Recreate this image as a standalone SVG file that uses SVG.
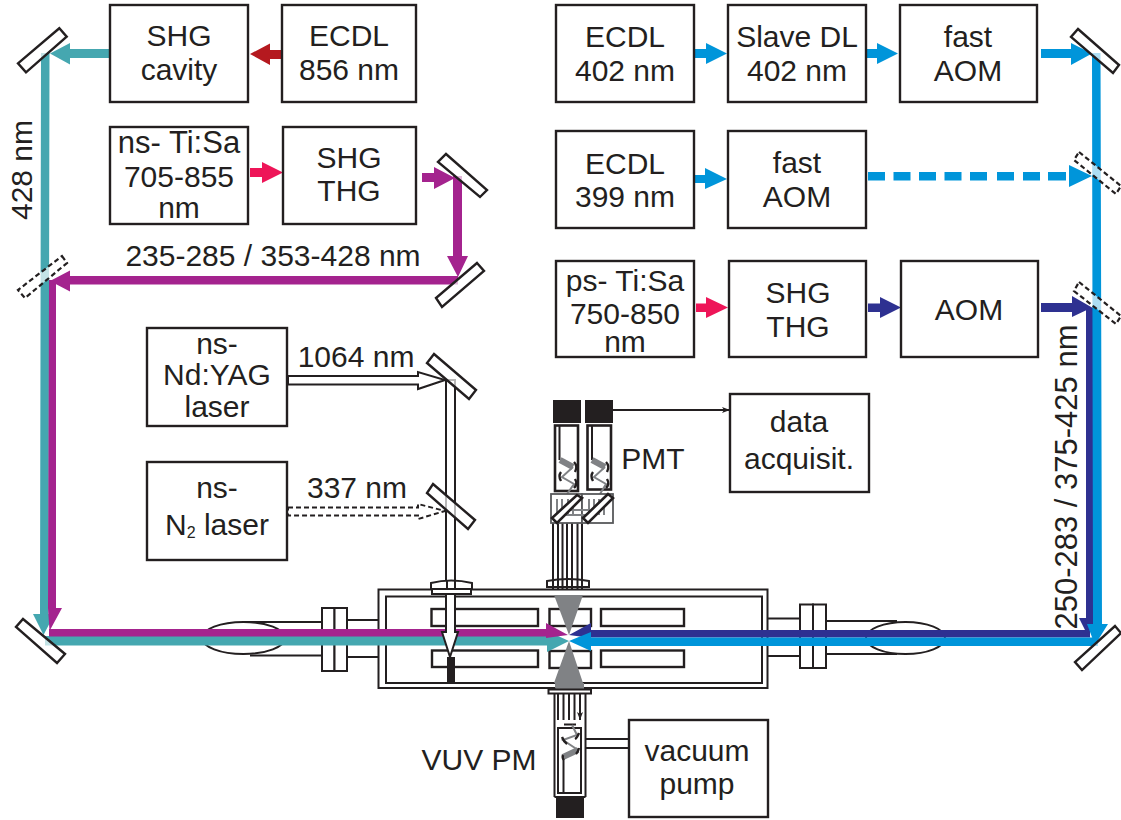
<svg xmlns="http://www.w3.org/2000/svg" width="1121" height="820" viewBox="0 0 1121 820">
<style>
text{font-family:"Liberation Sans",Arial,sans-serif;font-size:30px;fill:#231f20;text-anchor:middle}
.box{fill:#fff;stroke:#231f20;stroke-width:2.4}
.mir{fill:#fff;fill-opacity:.68;stroke:#231f20;stroke-width:2.4}
.dash{stroke-dasharray:5 3;stroke-width:2.2}
.ln{fill:none;stroke:#231f20;stroke-width:2}
.thin{fill:#fff;stroke:#231f20;stroke-width:2}
.tube{fill:#fff;stroke:#231f20;stroke-width:2.6}
.gz{fill:none;stroke:#808285;stroke-width:2}
.arc{fill:none;stroke:#231f20;stroke-width:2.4}
.blk{fill:#231f20}
.gr{fill:#808285}
.teal{fill:#45a7b0}.pur{fill:#a4238e}.cy{fill:#0095da}.nav{fill:#2e3191}.pink{fill:#ee1558}.red{fill:#b5191f}
</style>
<defs>
<marker id="tiny" markerWidth="8" markerHeight="6" refX="8" refY="3" orient="auto" markerUnits="userSpaceOnUse"><path d="M0 0L8 3L0 6L2 3Z" fill="#231f20"/></marker>
<marker id="tinyg" markerWidth="4" markerHeight="4" refX="3" refY="2" orient="auto" markerUnits="userSpaceOnUse"><path d="M0 0L4 2L0 4Z" fill="#808285"/></marker>
</defs>

<g id="chamber">
<rect class="thin" x="378.500" y="589.500" width="389" height="98.500"/>
<rect class="thin" x="386" y="596.500" width="376" height="86.500"/>
<rect class="box" x="431.500" y="609" width="106.500" height="17"/>
<rect class="box" x="432" y="650.500" width="106" height="16.500"/>
<rect class="box" x="549.500" y="609" width="41.500" height="17"/>
<rect class="box" x="549.500" y="651" width="41.500" height="17"/>
<rect class="box" x="601" y="609" width="83" height="17"/>
<rect class="box" x="601" y="650.500" width="83" height="16.500"/>
<path class="gr" d="M554 595H583L569 635ZM554 683H583L569 641Z"/>
<rect class="blk" x="447" y="657" width="8" height="25"/>
</g>
<g id="left-port">
<path class="ln" d="M243 622H322M250 655.500H322M347 620H379M347 657H379"/>
<rect class="thin" x="322" y="608" width="12.500" height="63"/>
<rect class="thin" x="334.500" y="608" width="12.500" height="63"/>
<ellipse class="ln" cx="243.500" cy="638" rx="41.500" ry="16"/>
</g>
<g id="right-port">
<path class="ln" d="M768 618.500H800M768 656H800M826 621H897M826 654H897"/>
<rect class="thin" x="800" y="604.500" width="13" height="63.500"/>
<rect class="thin" x="813" y="604.500" width="13" height="63.500"/>
<ellipse class="ln" cx="905.500" cy="638" rx="39.500" ry="16"/>
</g>

<g id="connectors">
<path class="teal" d="M110 49V58H70V64.500L50 53.500L70 43V49Z"/>
<path class="teal" d="M41 53H49.500L48.500 614H54.500L43.500 635L33 614H40Z"/>
<path class="teal" d="M45 636H547V631L569 641L547 652V645.500H45Z"/>
<path class="pur" d="M458 276V284.500H70V291.500L50 281L70 270.500V276Z"/>
<path class="pur" d="M49 280H56V608H62L49.500 631L48 608Z"/>
<path class="pur" d="M49 629H546V623L568 635L546 638V636.500H49Z"/>
<path class="pur" d="M422 173H434V167L455 178L434 189V182H422Z"/>
<path class="pur" d="M453 176H462V256H468L458 277L447 256H453Z"/>
<path class="red" d="M282 50V59H270V65L250 54L270 43.500V50Z"/>
<path class="pink" d="M250 168H262V162L283 172.500L262 183V177H250Z"/>
<path class="pink" d="M696 303.500H706V297L728 307.500L706 318V312H696Z"/>
<path class="nav" d="M868 303.500H880V297L901 307.500L880 318V312H868Z"/>
<path class="nav" d="M1041 303H1072V296L1092 307.500L1072 317V312H1041Z"/>
<path class="nav" d="M1086 307.500H1094V618H1098L1088 636L1079 618H1086Z"/>
<path class="nav" d="M1090 630V637.500H591V638L569 635L591 623V630Z"/>
<path class="cy" d="M1092 53H1100.500L1102 624H1108L1095 645L1087 624H1093Z"/>
<path class="cy" d="M1098 637.500V646H591V651L569 641L591 632V637.500Z"/>
<path class="cy" d="M695 49H706V43L727 53.500L706 64V58H695Z"/>
<path class="cy" d="M866 49H877V43L898 53.500L877 64V58H866Z"/>
<path class="cy" d="M1041 49H1071V43L1092 53.500L1071 65V58H1041Z"/>
<path class="cy" d="M695 175H705V168L727 179L705 189V183H695Z"/>
<path class="cy" d="M868 172h17v8.500h-17zM893.500 172h17v8.500h-17zM919 172h17v8.500h-17zM944.500 172h17v8.500h-17zM970 172h17v8.500h-17zM997 172h17v8.500h-17zM1023 172h17v8.500h-17zM1048 172h18v8.500h-18zM1069 165L1092 176L1069 187Z"/>
<g id="uv-1064">
<path d="M288 376H418V372L445 380L418 389V384.500H288Z" fill="#fff" stroke="#231f20" stroke-width="2"/>
<path d="M288 507.500H418V504L445 511L418 519V515.500H288Z" fill="#fff" stroke="#231f20" stroke-width="2" stroke-dasharray="5 3"/>
<path d="M446 380H455V632H458L450 657L442 632H446Z" fill="#fff" stroke="#231f20" stroke-width="2"/>
</g>
<path class="ln" d="M613 410H730" stroke-width="1.500" marker-end="url(#tiny)"/>
<path class="ln" d="M553 523V582M558 523V582M562.500 523V582M567 523V582M572 523V582M577.500 523V582M582 523V582"/>
<path class="ln" d="M558 692V720M563.500 692V720M569 692V720M574.500 692V720M580 692V720" marker-end="url(#tiny)"/>
</g>

<g id="lens-left"><path class="thin" d="M432 589H471V594H432Z"/><path class="thin" d="M431 589V583Q451 578 472 583V589Z"/><path class="ln" d="M447 581V589M455 581V589"/></g>
<g id="lens-top"><path class="thin" d="M547 581Q568 577 589 581V587H547Z"/><path class="ln" d="M553 579V589M558 579V589M562.500 579V589M567 579V589M572 579V589M577.500 579V589M582 579V589"/></g>

<g id="mirrors">
<polygon id="m1" class="mir" points="18,63.300 59.300,28.300 66.700,36.700 26,72.300"/>
<polygon id="m2" class="mir dash" points="62,256 67,263 25,298 18,290"/>
<polygon id="m3" class="mir" points="23,619 65,654 57,663 16,627"/>
<polygon id="m4" class="mir" points="446,154 487,190 480,197 438,162"/>
<polygon id="m5" class="mir" points="477,263 484,271 442,307 436,298"/>
<polygon id="m6" class="mir" points="434,354 476,390 469,399 427,363"/>
<polygon id="m7" class="mir" points="433,484 475,520 468,529 427,493"/>
<polygon id="m8" class="mir" points="1078,29 1119,65 1113,73 1071,37"/>
<polygon id="m9" class="mir dash" points="1079,152 1121,186 1116,194 1074,160"/>
<polygon id="m10" class="mir dash" points="1079,282 1121,316 1116,324 1074,291"/>
<polygon id="m11" class="mir" points="1115,626 1121,633 1082,670 1075,662"/>
</g>

<g id="pmt">
<rect class="blk" x="553" y="400" width="28" height="23"/>
<rect class="blk" x="585" y="400" width="28" height="23"/>
<rect class="tube" x="555" y="425.500" width="23" height="65.500"/>
<rect class="tube" x="587.500" y="425.500" width="23.500" height="64"/>
<path class="ln" d="M559.500 425.500V460M592 425.500V460"/>
<path d="M560 460L573 467" stroke="#808285" stroke-width="6" fill="none"/>
<path class="gz" d="M573 467L562 477L574 484L567 494"/>
<path d="M592 460L605 467" stroke="#808285" stroke-width="6" fill="none"/>
<path class="gz" d="M605 467L594 477L606 484L600 494"/>
<path class="arc" d="M574 462Q578 466 575 472M561 472Q558 476 561 481M575 479Q578 484 574 488M606 462Q610 466 607 472M593 472Q590 476 593 481M607 479Q610 484 606 488"/>
<rect x="551" y="494" width="31" height="29" fill="#fff" stroke="#58595b" stroke-width="1.800"/>
<rect x="582" y="494" width="31" height="29" fill="#fff" stroke="#58595b" stroke-width="1.800"/>
<path class="gz" d="M557 515V499M562 515V499M568 515V499M573 515V499M589 515V499M594 515V499M599 515V499M604 515V499M566 510H590M566 515H590" marker-end="url(#tinyg)"/>
<polygon class="tube" points="577,495 582,498 557,523 552,518"/>
<polygon class="tube" points="608,494 613,498 588,523 583,518"/>
</g>

<g id="vuv">
<rect class="gr" x="555" y="683" width="29" height="6"/>
<path class="ln" d="M554.500 688V797M585.500 688V797" stroke-width="2.400"/>
<path class="thin" d="M548.500 689.500H591V693.500H548.500Z"/>
<path class="ln" d="M554.500 797H585.500M564 724.500H576"/>
<rect class="ln" x="558" y="728" width="23" height="65"/>
<path class="ln" d="M563.500 757V793"/>
<path class="gz" d="M572 725L577 735L563 740L578 750"/>
<path d="M578 750L563 757" stroke="#808285" stroke-width="6" fill="none"/>
<path class="arc" d="M562 737Q564 742 567 744M579 733Q577 738 575 739M579 748Q578 752 576 754M563 755Q562 758 564 760"/>
<rect class="blk" x="556" y="797" width="28" height="21"/>
<path class="ln" d="M586 739H629M586 748H629"/>
</g>

<g id="n-shg-cavity"><rect class="box" x="110" y="5" width="138" height="97"/><text x="179" y="46">SHG</text><text x="179" y="80">cavity</text></g>
<g id="n-ecdl-856"><rect class="box" x="282" y="5" width="134" height="97"/><text x="349" y="46">ECDL</text><text x="349" y="80">856 nm</text></g>
<g id="n-ns-tisa"><rect class="box" x="110" y="127" width="138" height="97"/><text x="179" y="153" style="font-size:31px">ns- Ti:Sa</text><text x="179" y="187">705-855</text><text x="179" y="218">nm</text></g>
<g id="n-shg-thg-1"><rect class="box" x="283" y="127" width="133" height="97"/><text x="349" y="168">SHG</text><text x="349" y="201">THG</text></g>
<g id="n-ecdl-402"><rect class="box" x="556" y="5" width="138" height="97"/><text x="625" y="47">ECDL</text><text x="625" y="81">402 nm</text></g>
<g id="n-slave"><rect class="box" x="728" y="5" width="138" height="97"/><text x="797" y="47">Slave DL</text><text x="797" y="81">402 nm</text></g>
<g id="n-fast-aom-1"><rect class="box" x="900" y="5" width="137" height="97"/><text x="968" y="47">fast</text><text x="968" y="81">AOM</text></g>
<g id="n-ecdl-399"><rect class="box" x="556" y="131" width="138" height="97"/><text x="625" y="174">ECDL</text><text x="625" y="207">399 nm</text></g>
<g id="n-fast-aom-2"><rect class="box" x="728" y="131" width="138" height="97"/><text x="797" y="173">fast</text><text x="797" y="207">AOM</text></g>
<g id="n-ps-tisa"><rect class="box" x="556" y="261" width="138" height="96"/><text x="625" y="291">ps- Ti:Sa</text><text x="625" y="324">750-850</text><text x="625" y="352">nm</text></g>
<g id="n-shg-thg-2"><rect class="box" x="729" y="261" width="137" height="96"/><text x="798" y="303">SHG</text><text x="798" y="337">THG</text></g>
<g id="n-aom"><rect class="box" x="901" y="261" width="137" height="96"/><text x="969" y="320">AOM</text></g>
<g id="n-yag"><rect class="box" x="147" y="328" width="140" height="98"/><text x="217" y="354">ns-</text><text x="217" y="385">Nd:YAG</text><text x="217" y="417">laser</text></g>
<g id="n-n2"><rect class="box" x="147" y="462" width="140" height="98"/><text x="217" y="498">ns-</text><text x="217" y="535">N<tspan font-size="16" dy="3">2</tspan><tspan dy="-3"> laser</tspan></text></g>
<g id="n-data"><rect class="box" x="730" y="394" width="139" height="98"/><text x="799" y="432">data</text><text x="799" y="469">acquisit.</text></g>
<g id="n-pump"><rect class="box" x="629" y="720" width="139" height="97"/><text x="697" y="761">vacuum</text><text x="697" y="794">pump</text></g>

<g id="labels">
<text transform="translate(32 170) rotate(-90)">428 nm</text>
<text x="273" y="266">235-285 / 353-428 nm</text>
<text transform="translate(1077 477) rotate(-90)" style="font-size:31px">250-283 / 375-425 nm</text>
<text x="356" y="367">1064 nm</text>
<text x="357" y="498">337 nm</text>
<text x="653" y="469">PMT</text>
<text x="479" y="770">VUV PM</text>
</g>
</svg>
